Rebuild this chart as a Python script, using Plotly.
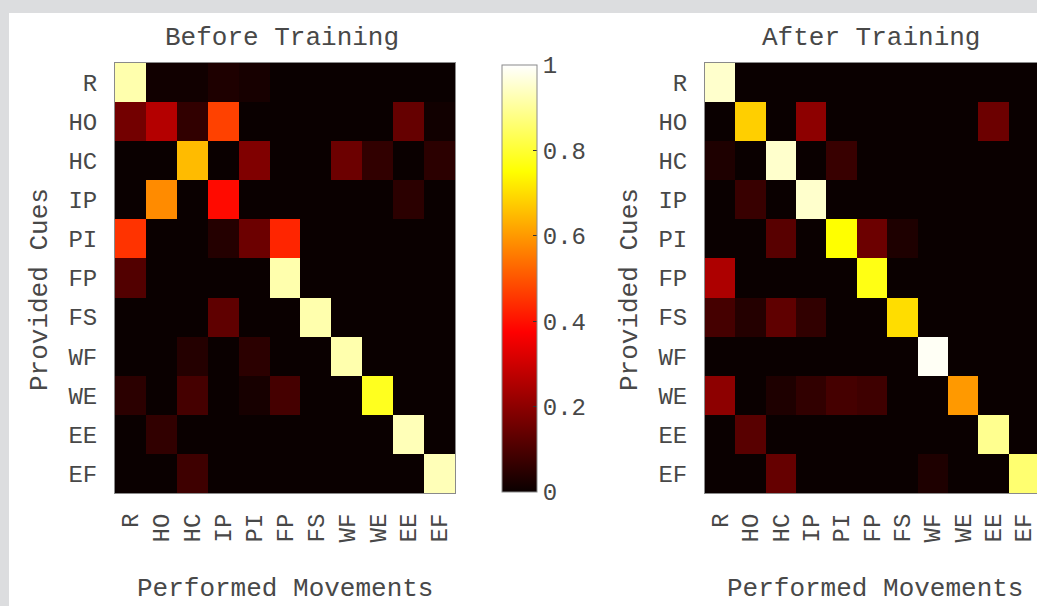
import plotly.graph_objects as go

labels = ["R", "HO", "HC", "IP", "PI", "FP", "FS", "WF", "WE", "EE", "EF"]

# Before training confusion matrix (rows: provided cues, cols: performed movements)
before = [
    [0.92, 0.01, 0.01, 0.03, 0.02, 0.00, 0.00, 0.00, 0.00, 0.00, 0.00],
    [0.16, 0.26, 0.06, 0.47, 0.00, 0.00, 0.00, 0.00, 0.00, 0.14, 0.01],
    [0.00, 0.00, 0.65, 0.00, 0.18, 0.00, 0.00, 0.15, 0.06, 0.00, 0.05],
    [0.00, 0.58, 0.00, 0.39, 0.00, 0.00, 0.00, 0.00, 0.00, 0.05, 0.00],
    [0.45, 0.00, 0.00, 0.04, 0.15, 0.43, 0.00, 0.00, 0.00, 0.00, 0.00],
    [0.11, 0.00, 0.00, 0.00, 0.00, 0.92, 0.00, 0.00, 0.00, 0.00, 0.00],
    [0.00, 0.00, 0.00, 0.13, 0.00, 0.00, 0.92, 0.00, 0.00, 0.00, 0.00],
    [0.00, 0.00, 0.04, 0.00, 0.05, 0.00, 0.00, 0.92, 0.00, 0.00, 0.00],
    [0.05, 0.00, 0.09, 0.00, 0.02, 0.09, 0.00, 0.00, 0.78, 0.00, 0.00],
    [0.00, 0.06, 0.00, 0.00, 0.00, 0.00, 0.00, 0.00, 0.00, 0.93, 0.00],
    [0.00, 0.00, 0.08, 0.00, 0.00, 0.00, 0.00, 0.00, 0.00, 0.00, 0.93],
]

# After training confusion matrix
after = [
    [0.95, 0.00, 0.00, 0.00, 0.00, 0.00, 0.00, 0.00, 0.00, 0.00, 0.00],
    [0.00, 0.68, 0.00, 0.20, 0.00, 0.00, 0.00, 0.00, 0.00, 0.15, 0.00],
    [0.03, 0.00, 0.95, 0.00, 0.07, 0.00, 0.00, 0.00, 0.00, 0.00, 0.00],
    [0.00, 0.07, 0.00, 0.95, 0.00, 0.00, 0.00, 0.00, 0.00, 0.00, 0.00],
    [0.00, 0.00, 0.12, 0.00, 0.75, 0.15, 0.03, 0.00, 0.00, 0.00, 0.00],
    [0.25, 0.00, 0.00, 0.00, 0.00, 0.77, 0.00, 0.00, 0.00, 0.00, 0.00],
    [0.09, 0.04, 0.13, 0.06, 0.00, 0.00, 0.70, 0.00, 0.00, 0.00, 0.00],
    [0.00, 0.00, 0.00, 0.00, 0.00, 0.00, 0.00, 0.99, 0.00, 0.00, 0.00],
    [0.20, 0.00, 0.03, 0.06, 0.09, 0.08, 0.00, 0.00, 0.60, 0.00, 0.00],
    [0.00, 0.12, 0.00, 0.00, 0.00, 0.00, 0.00, 0.00, 0.00, 0.89, 0.00],
    [0.00, 0.00, 0.14, 0.00, 0.00, 0.00, 0.00, 0.03, 0.00, 0.00, 0.86],
]

colorbar_ticks = [0, 0.2, 0.4, 0.6, 0.8, 1]
colorbar_ticktext = ["0", "0.2", "0.4", "0.6", "0.8", "1"]

W, H = 1037, 606
FONT = "Liberation Mono, Courier New, monospace"
TXT = "#484848"

hot = [
    [0.0, "rgb(10,0,0)"],
    [0.375, "rgb(255,0,0)"],
    [0.75, "rgb(255,255,0)"],
    [1.0, "rgb(255,255,255)"],
]

idx = list(range(len(labels)))

def px_x(p):
    return p / W

def px_y(p):
    return 1 - p / H

fig = go.Figure()

fig.add_trace(go.Heatmap(
    z=before, x=idx, y=idx, colorscale=hot, zmin=0, zmax=1,
    xaxis="x", yaxis="y", showscale=True,
    colorbar=dict(
        x=px_x(502), xanchor="left", xpad=0, ypad=0,
        y=px_y(278.5), yanchor="middle",
        thickness=35, thicknessmode="pixels",
        len=427, lenmode="pixels",
        outlinecolor="#8a8a8a", outlinewidth=1,
        tickvals=colorbar_ticks, ticktext=colorbar_ticktext,
        ticks="inside", ticklen=4, tickcolor="#333",
        tickfont=dict(family=FONT, size=24, color=TXT),
    ),
))

fig.add_trace(go.Heatmap(
    z=after, x=idx, y=idx, colorscale=hot, zmin=0, zmax=1,
    xaxis="x2", yaxis="y2", showscale=False,
))

# right panel is cut off by the page edge; keep its cell width close to the left one
cell_w = 30.35
right_visible = (W - 705) / cell_w  # number of visible cells

axis_common = dict(
    showgrid=False, zeroline=False, showline=True, mirror=True,
    linecolor="#8a8a8a", linewidth=1, ticks="",
    tickfont=dict(family=FONT, size=24, color=TXT),
    tickvals=idx, ticktext=labels,
)

fig.update_layout(
    width=W, height=H,
    margin=dict(l=0, r=0, t=0, b=0),
    paper_bgcolor="#dcdddf",
    plot_bgcolor="white",
    showlegend=False,
    xaxis=dict(domain=[px_x(115), px_x(455)], range=[-0.5, 10.5], anchor="y",
               tickangle=-90, ticklabelstandoff=10, **axis_common),
    yaxis=dict(domain=[px_y(493), px_y(63)], range=[10.5, -0.5], anchor="x",
               ticklabelstandoff=12, **axis_common),
    xaxis2=dict(domain=[px_x(705), 1.0], range=[-0.5, -0.5 + right_visible], anchor="y2",
                tickangle=-90, ticklabelstandoff=10, ticklabeloverflow="allow",
                automargin=False, **axis_common),
    yaxis2=dict(domain=[px_y(493), px_y(63)], range=[10.5, -0.5], anchor="x2",
                ticklabelstandoff=12, **axis_common),
    shapes=[
        dict(type="rect", xref="paper", yref="paper", layer="below",
             x0=px_x(9), x1=1.0, y0=0, y1=px_y(13),
             fillcolor="white", line=dict(width=0)),
    ],
)

ann_font = dict(family=FONT, size=26, color=TXT)
annotations = [
    dict(text="Before Training", x=px_x(282), y=px_y(38)),
    dict(text="After Training", x=px_x(871), y=px_y(38)),
    dict(text="Performed Movements", x=px_x(285), y=px_y(589)),
    dict(text="Performed Movements", x=px_x(875), y=px_y(589)),
    dict(text="Provided Cues", x=px_x(40), y=px_y(290), textangle=-90),
    dict(text="Provided Cues", x=px_x(630), y=px_y(290), textangle=-90),
]
for a in annotations:
    a.update(xref="paper", yref="paper", showarrow=False, font=ann_font,
             xanchor="center", yanchor="middle")
fig.update_layout(annotations=annotations)

fig.write_html(
    "out.html",
    config={"displayModeBar": False},
    post_script=(
        "document.documentElement.style.overflow='hidden';"
        "document.body.style.overflow='hidden';"
        "document.body.style.margin='0';"
        "var d=document.getElementById('{plot_id}');"
        "d.style.overflow='hidden';"
        "if(d.parentElement){d.parentElement.style.overflow='hidden';}"
        "document.querySelectorAll('.main-svg').forEach(function(s){s.style.overflow='hidden';});"
    ),
)
